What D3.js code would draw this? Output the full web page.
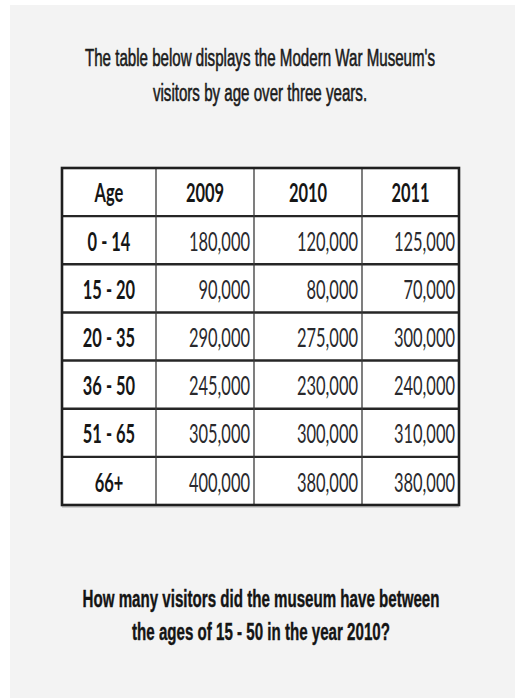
<!DOCTYPE html>
<html>
<head>
<meta charset="utf-8">
<script src="https://cdn.jsdelivr.net/npm/d3@7"></script>
<style>
  html, body { margin: 0; padding: 0; background: #ffffff; }
  svg { display: block; }
</style>
</head>
<body>
<script>
// ---- data ----
const titleLines = ["The table below displays the Modern War Museum's", "visitors by age over three years."];
const questionLines = ["How many visitors did the museum have between", "the ages of 15 - 50 in the year 2010?"];
const headerLabel = "Age";
const years = ["2009", "2010", "2011"];
const ageGroups = ["0 - 14", "15 - 20", "20 - 35", "36 - 50", "51 - 65", "66+"];
const visitors2009 = [180000, 90000, 290000, 245000, 305000, 400000];
const visitors2010 = [120000, 80000, 275000, 230000, 300000, 380000];
const visitors2011 = [125000, 70000, 300000, 240000, 310000, 380000];

// ---- layout ----
const W = 517, H = 698;
const tableLeft = 62, tableTop = 168, tableBottom = 505;
const colWidths = [94, 98, 108, 97];
const condenseTable = 0.61, condenseTitle = 0.63, condenseQuestion = 0.63;

const svg = d3.select("body").append("svg").attr("width", W).attr("height", H);
svg.append("rect").attr("x", 10).attr("y", 5).attr("width", 505).attr("height", 693).attr("fill", "#f3f3f3");

const tFont = "'Liberation Sans', Arial, sans-serif";
function condensedText(g, str, x, y, sx, opts) {
  return g.append("text")
    .attr("transform", `translate(${x},${y}) scale(${sx},1)`)
    .attr("text-anchor", opts.anchor || "middle")
    .attr("font-family", opts.family)
    .attr("font-size", opts.size)
    .attr("font-weight", opts.weight || "normal")
    .attr("fill", opts.fill || "#1e1e1e")
    .attr("stroke", opts.stroke ? opts.fill : null)
    .attr("stroke-width", opts.stroke || null)
    .text(str);
}
titleLines.forEach((s, i) => condensedText(svg, s, 260, 66 + i * 35, condenseTitle,
  {family: tFont, size: 24, weight: "normal", fill: "#1a1a1a", stroke: 0.6}));
questionLines.forEach((s, i) => condensedText(svg, s, 261, 607 + i * 33, condenseQuestion,
  {family: tFont, size: 24, weight: "bold", fill: "#141414", stroke: 0.4}));

// table
const rows = [headerLabel].concat(ageGroups);
const y = d3.scaleBand().domain(d3.range(rows.length)).range([tableTop, tableBottom]);
const colEdges = [tableLeft];
colWidths.forEach(w => colEdges.push(colEdges[colEdges.length - 1] + w));
const tableRight = colEdges[colEdges.length - 1];
const x = d3.scaleOrdinal().domain(d3.range(4)).range(colEdges.slice(0, 4));

const tbl = svg.append("g");
tbl.append("rect").attr("x", tableLeft).attr("y", tableTop)
  .attr("width", tableRight - tableLeft).attr("height", tableBottom - tableTop)
  .attr("fill", "#ffffff");
tbl.append("rect").attr("x", tableLeft).attr("y", tableBottom + 1)
  .attr("width", tableRight - tableLeft).attr("height", 2).attr("fill", "#cfcfcf");

tbl.selectAll("line.h").data(d3.range(1, rows.length)).join("line")
  .attr("x1", tableLeft).attr("x2", tableRight)
  .attr("y1", d => y(d)).attr("y2", d => y(d))
  .attr("stroke", "#262626").attr("stroke-width", 2.4);
tbl.selectAll("line.v").data(d3.range(1, 4)).join("line")
  .attr("x1", d => x(d)).attr("x2", d => x(d))
  .attr("y1", tableTop).attr("y2", tableBottom)
  .attr("stroke", "#3a3a3a").attr("stroke-width", 1.3);
tbl.append("rect").attr("x", tableLeft).attr("y", tableTop)
  .attr("width", tableRight - tableLeft).attr("height", tableBottom - tableTop)
  .attr("fill", "none").attr("stroke", "#1f1f1f").attr("stroke-width", 2.6);

const cFont = "Lato, 'Open Sans', sans-serif";
const fmt = d3.format(",");
const baseOff = 0.72;
condensedText(tbl, headerLabel, x(0) + colWidths[0] / 2, y(0) + y.bandwidth() * 0.7, condenseTable,
  {family: cFont, size: 27, weight: "bold", fill: "#161616"});
years.forEach((yr, i) => condensedText(tbl, yr, x(i + 1) + colWidths[i + 1] / 2, y(0) + y.bandwidth() * 0.7, condenseTable,
  {family: cFont, size: 27, weight: "bold", fill: "#161616"}));
const series = [visitors2009, visitors2010, visitors2011];
ageGroups.forEach((ag, r) => {
  const yy = y(r + 1) + y.bandwidth() * baseOff;
  condensedText(tbl, ag, x(0) + colWidths[0] / 2, yy, condenseTable,
    {family: cFont, size: 27, weight: "bold", fill: "#161616"});
  series.forEach((s, c) => {
    condensedText(tbl, fmt(s[r]), x(c + 1) + colWidths[c + 1] - 4, yy, condenseTable,
      {family: cFont, size: 27, weight: "normal", fill: "#2a2a2e", anchor: "end"});
  });
});
</script>
</body>
</html>
